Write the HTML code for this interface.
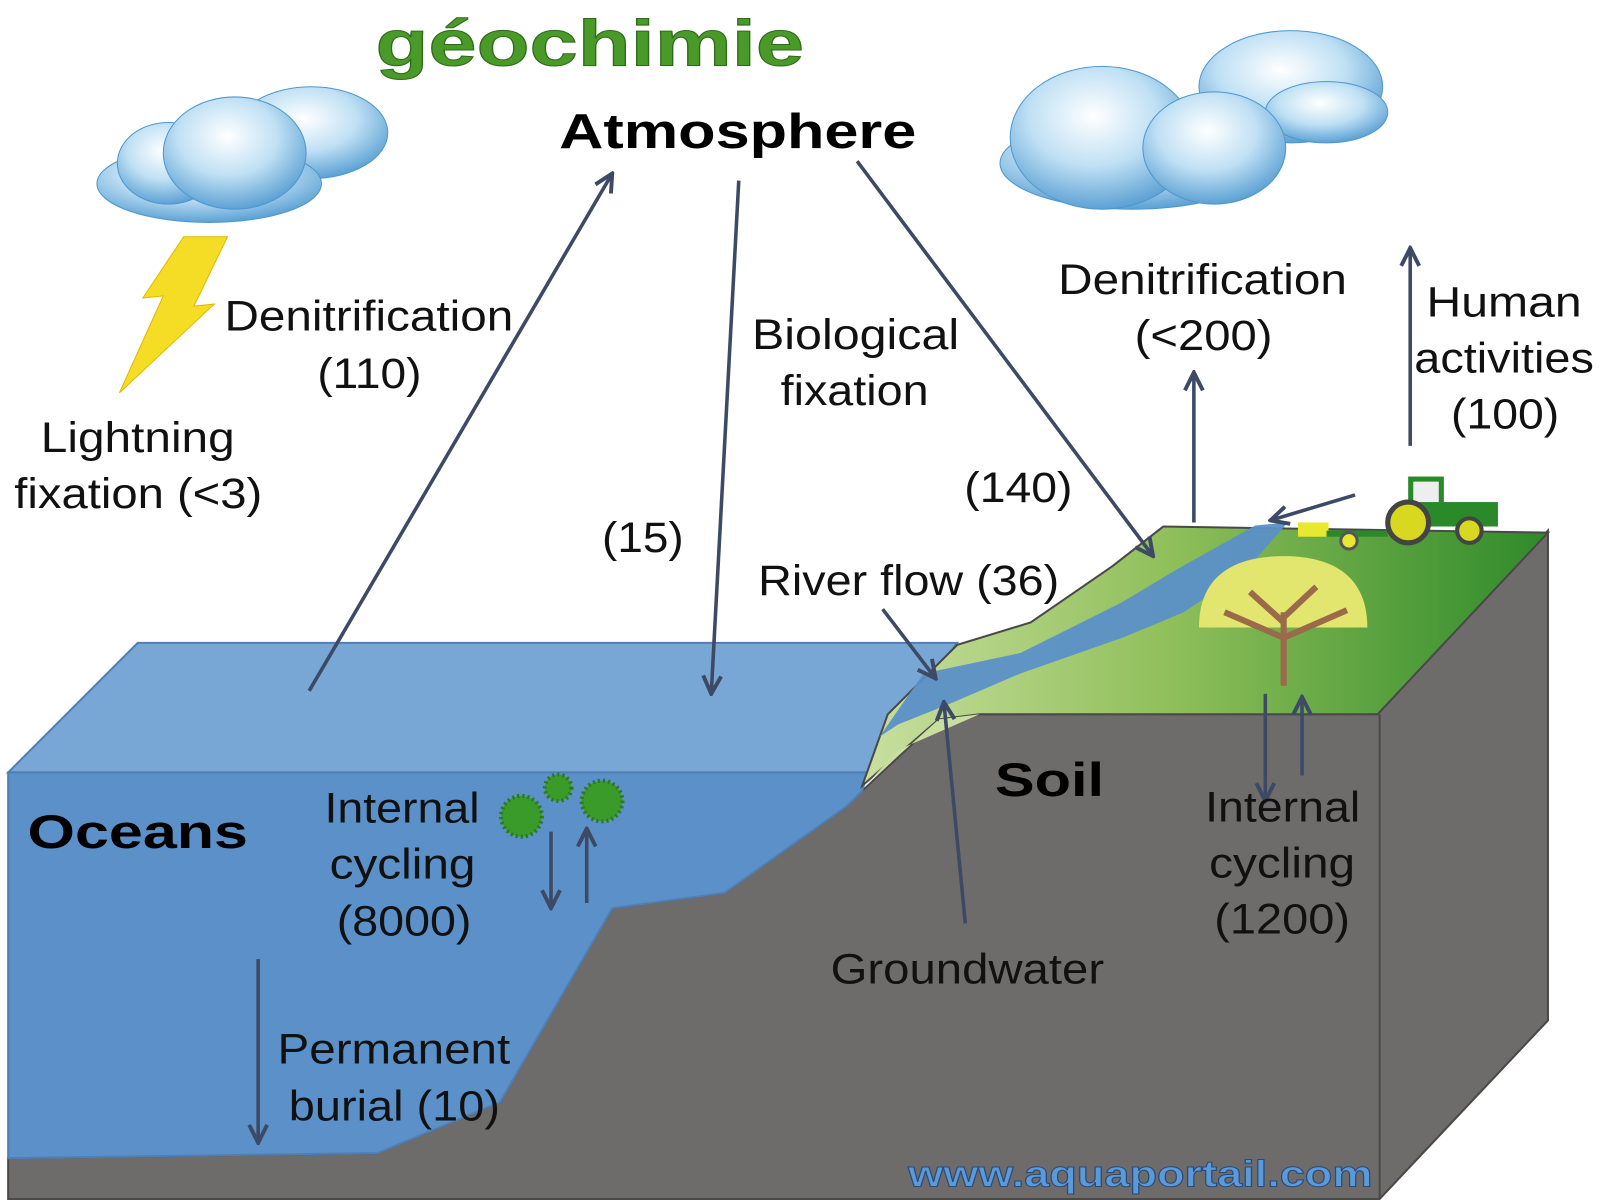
<!DOCTYPE html>
<html><head><meta charset="utf-8"><style>
html,body{margin:0;padding:0;background:#fff}
svg{display:block}
text{font-family:"Liberation Sans","DejaVu Sans",sans-serif}
</style></head><body>
<svg width="1600" height="1200" viewBox="0 0 1568 1176" preserveAspectRatio="none" xmlns="http://www.w3.org/2000/svg">
<defs>
<marker id="a" viewBox="0 0 20 20" refX="18" refY="10" markerWidth="22" markerHeight="22" markerUnits="userSpaceOnUse" orient="auto"><path d="M2 2 L18 10 L2 18" fill="none" stroke="#3d4a66" stroke-width="3.5"/></marker>
<linearGradient id="g" x1="0" x2="1"><stop offset="0" stop-color="#c9dfa0"/><stop offset="0.45" stop-color="#8fbf5a"/><stop offset="1" stop-color="#2f8a2a"/></linearGradient>
<radialGradient id="c" cx="0.45" cy="0.35" r="0.7"><stop offset="0" stop-color="#ffffff"/><stop offset="0.5" stop-color="#bfe0f4"/><stop offset="1" stop-color="#4d97cf"/></radialGradient>
</defs>
<polygon points="845,775 830,790 710,875 600,890 490,1080 370,1130 8,1135 8,1175 1352,1175 1517,1000 1517,520 1350,700 960,700 920,705" fill="#6e6b6b" stroke="#4a4848" stroke-width="2"/>
<line x1="1352" y1="700" x2="1352" y2="1175" stroke="#4a4848" stroke-width="2"/>
<polygon points="8,757 135,630 938,630 850,757" fill="#79a7d5" stroke="#4f7fb5" stroke-width="2"/>
<polygon points="8,757 850,757 845,775 830,790 710,875 600,890 490,1080 370,1130 8,1135" fill="#5b90c8" stroke="#4f7fb5" stroke-width="2"/>
<polygon points="938,632 1010,610 1090,555 1140,516 1517,522 1350,700 960,700 920,705 845,770 870,700" fill="url(#g)" stroke="#4a4848" stroke-width="2"/>
<polygon points="850,768 880,735 960,700 920,705" fill="#c9dfa0"/>
<polygon points="862,722 905,660 1000,640 1100,590 1150,560 1230,515 1262,512 1220,560 1160,600 1100,625 1000,660 930,690 880,710" fill="#5b90c8" opacity="0.95"/>
<path d="M1175,615 C1175,560 1215,545 1258,545 C1300,545 1340,560 1340,615 Z" fill="#e3e66e"/>
<path d="M1258,672 L1258,600 M1258,610 L1225,580 M1258,605 L1290,575 M1258,625 L1200,600 M1258,625 L1320,598" stroke="#9b6a4a" stroke-width="6" fill="none"/>
<rect x="1272" y="512" width="30" height="14" fill="#e8e830"/>
<rect x="1300" y="520" width="60" height="6" fill="#2a8a2a"/>
<circle cx="1322" cy="530" r="8" fill="#e8e830" stroke="#555" stroke-width="3"/>
<rect x="1380" y="467" width="35" height="35" fill="#2a8a2a"/>
<rect x="1385" y="472" width="25" height="22" fill="#eee"/>
<rect x="1370" y="492" width="98" height="24" fill="#2a8a2a"/>
<circle cx="1380" cy="512" r="20" fill="#d8d820" stroke="#444" stroke-width="5"/>
<circle cx="1440" cy="520" r="12" fill="#d8d820" stroke="#444" stroke-width="4"/>
<g fill="#3a9a2a" stroke="#2a7a1a" stroke-width="4" stroke-dasharray="2 3">
<circle cx="511" cy="800" r="20"/><circle cx="547" cy="772" r="13"/><circle cx="590" cy="785" r="20"/></g>
<g fill="url(#c)" stroke="#4d97cf" stroke-width="1">
<ellipse cx="305" cy="130" rx="75" ry="45"/><ellipse cx="205" cy="180" rx="110" ry="38"/><ellipse cx="165" cy="160" rx="50" ry="40"/><ellipse cx="230" cy="150" rx="70" ry="55"/>
<ellipse cx="1265" cy="85" rx="90" ry="55"/><ellipse cx="1300" cy="110" rx="60" ry="30"/><ellipse cx="1110" cy="160" rx="130" ry="45"/><ellipse cx="1080" cy="135" rx="90" ry="70"/><ellipse cx="1190" cy="145" rx="70" ry="55"/></g>
<polygon points="180,232 223,232 190,300 210,298 117,385 160,290 140,292" fill="#f5dc25" stroke="#e0b800" stroke-width="1"/>
<g stroke="#3d4a66" stroke-width="3.5" fill="none" marker-end="url(#a)">
<line x1="303" y1="677" x2="600" y2="170"/>
<line x1="724" y1="177" x2="697" y2="680"/>
<line x1="840" y1="158" x2="1130" y2="545"/>
<line x1="1170" y1="512" x2="1170" y2="365"/>
<line x1="1382" y1="437" x2="1382" y2="243"/>
<line x1="1328" y1="485" x2="1245" y2="510"/>
<line x1="865" y1="597" x2="917" y2="665"/>
<line x1="946" y1="905" x2="925" y2="688"/>
<line x1="1240" y1="680" x2="1240" y2="785"/>
<line x1="1276" y1="760" x2="1276" y2="683"/>
<line x1="540" y1="815" x2="540" y2="890"/>
<line x1="575" y1="885" x2="575" y2="812"/>
<line x1="253" y1="940" x2="253" y2="1120"/>
</g>
<text x="368" y="64" font-size="64" font-weight="bold" fill="#4a9a2a" stroke="#2f6a1a" stroke-width="1" textLength="420" lengthAdjust="spacingAndGlyphs">géochimie</text>
<text x="548" y="145" font-size="48" font-weight="bold" fill="#000" textLength="350" lengthAdjust="spacingAndGlyphs">Atmosphere</text>
<g font-size="42" fill="#111">
<text x="220" y="324" textLength="283" lengthAdjust="spacingAndGlyphs">Denitrification</text><text x="311" y="380" textLength="102" lengthAdjust="spacingAndGlyphs">(110)</text>
<text x="40" y="443" textLength="190" lengthAdjust="spacingAndGlyphs">Lightning</text><text x="14" y="498" textLength="243" lengthAdjust="spacingAndGlyphs">fixation (&lt;3)</text>
<text x="737" y="342" textLength="203" lengthAdjust="spacingAndGlyphs">Biological</text><text x="765" y="397" textLength="145" lengthAdjust="spacingAndGlyphs">fixation</text>
<text x="590" y="541" textLength="80" lengthAdjust="spacingAndGlyphs">(15)</text>
<text x="945" y="492" textLength="106" lengthAdjust="spacingAndGlyphs">(140)</text>
<text x="1037" y="288" textLength="283" lengthAdjust="spacingAndGlyphs">Denitrification</text><text x="1112" y="343" textLength="135" lengthAdjust="spacingAndGlyphs">(&lt;200)</text>
<text x="1398" y="310" textLength="152" lengthAdjust="spacingAndGlyphs">Human</text><text x="1386" y="365" textLength="176" lengthAdjust="spacingAndGlyphs">activities</text><text x="1422" y="420" textLength="106" lengthAdjust="spacingAndGlyphs">(100)</text>
<text x="743" y="583" textLength="295" lengthAdjust="spacingAndGlyphs">River flow (36)</text>
<text x="318" y="806" textLength="152" lengthAdjust="spacingAndGlyphs">Internal</text><text x="323" y="861" textLength="143" lengthAdjust="spacingAndGlyphs">cycling</text><text x="330" y="917" textLength="132" lengthAdjust="spacingAndGlyphs">(8000)</text>
<text x="1181" y="805" textLength="152" lengthAdjust="spacingAndGlyphs">Internal</text><text x="1185" y="860" textLength="143" lengthAdjust="spacingAndGlyphs">cycling</text><text x="1190" y="915" textLength="133" lengthAdjust="spacingAndGlyphs">(1200)</text>
<text x="814" y="964" textLength="268" lengthAdjust="spacingAndGlyphs">Groundwater</text>
<text x="272" y="1042" textLength="228" lengthAdjust="spacingAndGlyphs">Permanent</text><text x="283" y="1098" textLength="207" lengthAdjust="spacingAndGlyphs">burial (10)</text>
</g>
<text x="27" y="831" font-size="46" font-weight="bold" fill="#000" textLength="216" lengthAdjust="spacingAndGlyphs">Oceans</text>
<text x="975" y="780" font-size="46" font-weight="bold" fill="#000" textLength="107" lengthAdjust="spacingAndGlyphs">Soil</text>
<text x="890" y="1163" font-size="36" font-weight="bold" fill="#5b9ad8" stroke="#2a4a7a" stroke-width="1" textLength="455" lengthAdjust="spacingAndGlyphs">www.aquaportail.com</text>
</svg>
</body></html>
